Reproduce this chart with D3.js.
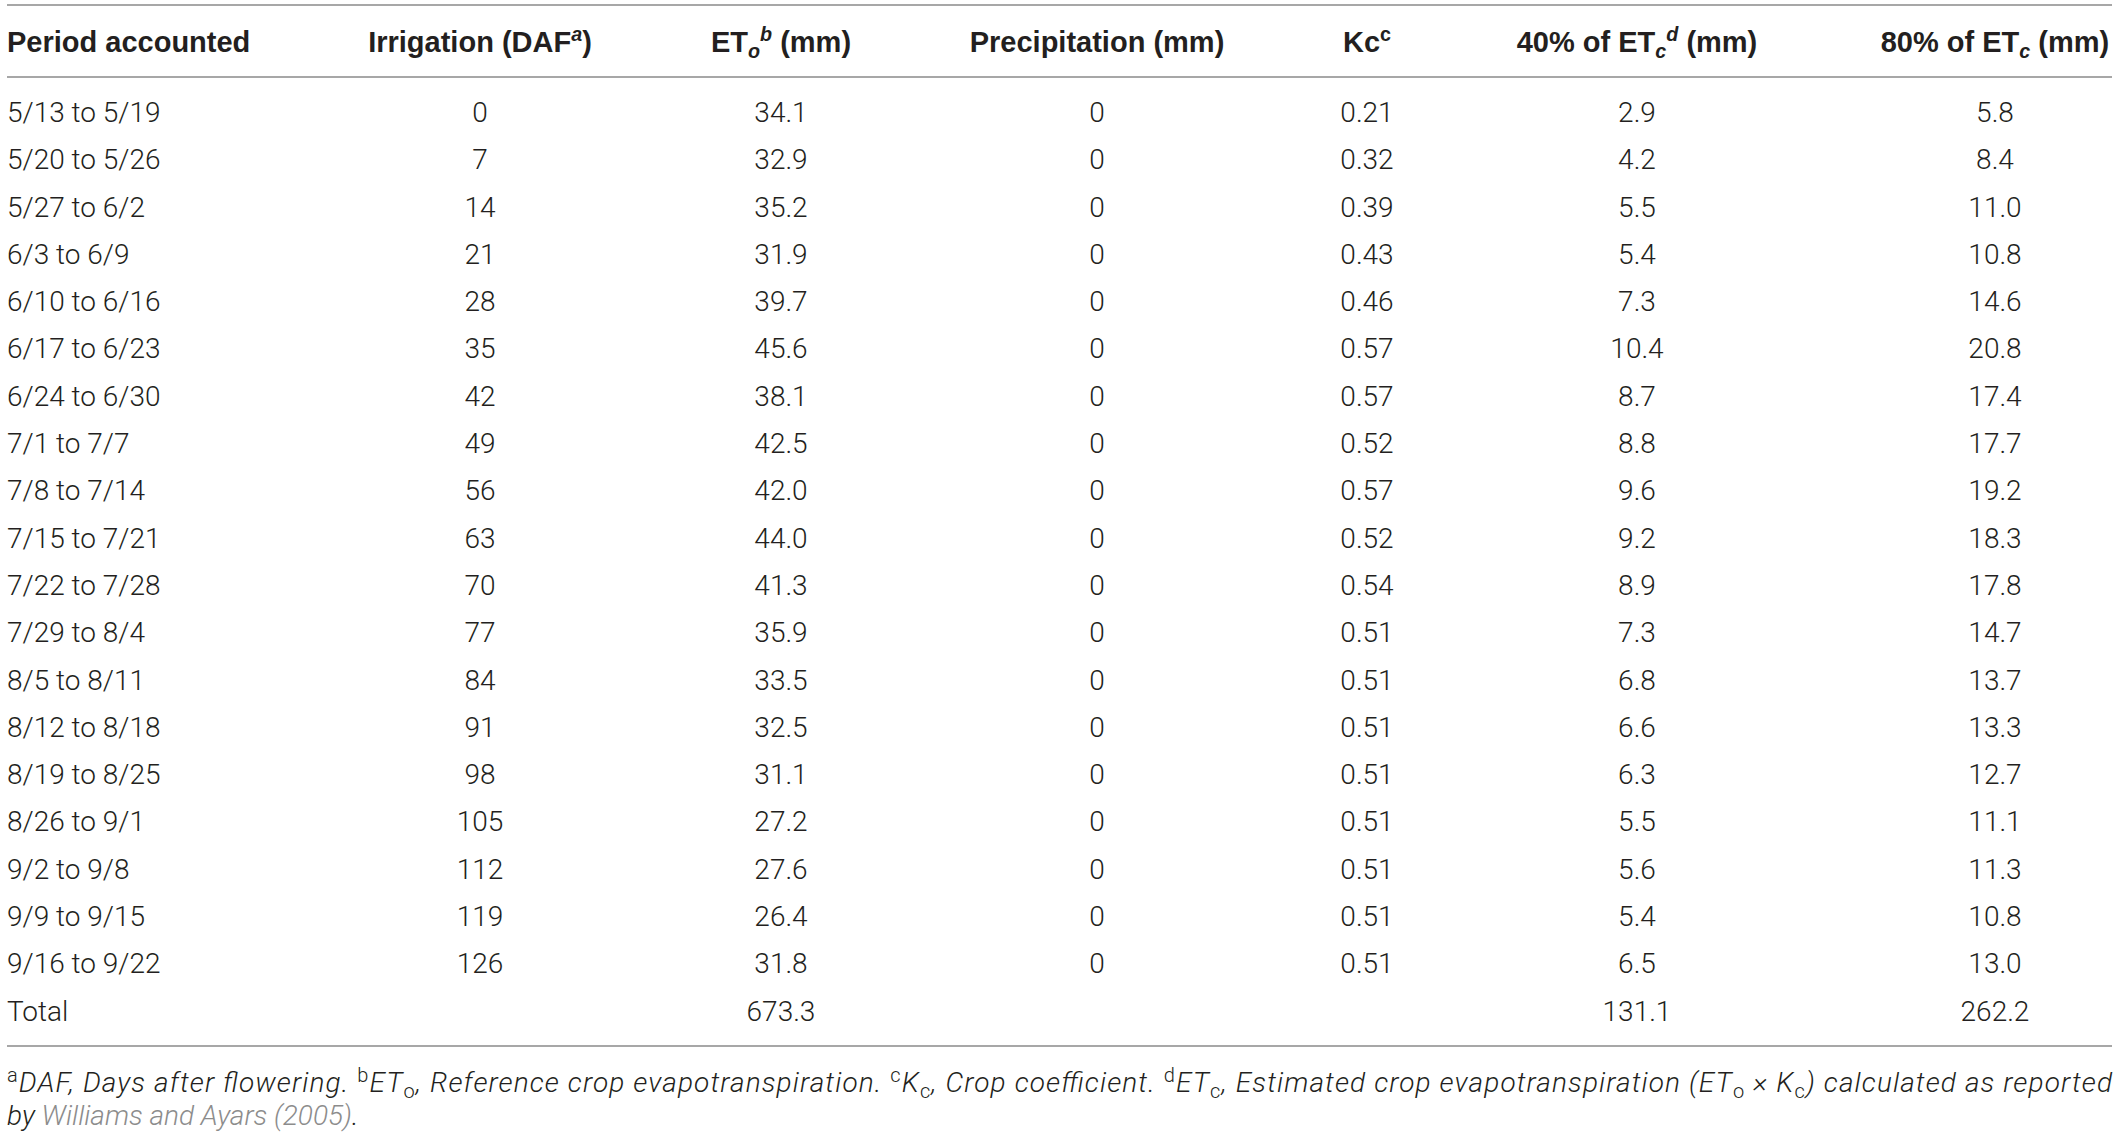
<!DOCTYPE html>
<html>
<head>
<meta charset="utf-8">
<script src="https://cdn.jsdelivr.net/npm/d3@7"></script>
<style>
  body { margin: 0; background: #fff; }
  svg text { fill: #231f20; }
</style>
</head>
<body>
<div id="chart"></div>
<script>
// table values
var periods = ["5/13 to 5/19", "5/20 to 5/26", "5/27 to 6/2", "6/3 to 6/9", "6/10 to 6/16",
  "6/17 to 6/23", "6/24 to 6/30", "7/1 to 7/7", "7/8 to 7/14", "7/15 to 7/21", "7/22 to 7/28",
  "7/29 to 8/4", "8/5 to 8/11", "8/12 to 8/18", "8/19 to 8/25", "8/26 to 9/1", "9/2 to 9/8",
  "9/9 to 9/15", "9/16 to 9/22"];
var daf = [0, 7, 14, 21, 28, 35, 42, 49, 56, 63, 70, 77, 84, 91, 98, 105, 112, 119, 126];
var eto = [34.1, 32.9, 35.2, 31.9, 39.7, 45.6, 38.1, 42.5, 42.0, 44.0, 41.3, 35.9, 33.5, 32.5, 31.1, 27.2, 27.6, 26.4, 31.8];
var precip = [0, 0, 0, 0, 0, 0, 0, 0, 0, 0, 0, 0, 0, 0, 0, 0, 0, 0, 0];
var kc = [0.21, 0.32, 0.39, 0.43, 0.46, 0.57, 0.57, 0.52, 0.57, 0.52, 0.54, 0.51, 0.51, 0.51, 0.51, 0.51, 0.51, 0.51, 0.51];
var etc40 = [2.9, 4.2, 5.5, 5.4, 7.3, 10.4, 8.7, 8.8, 9.6, 9.2, 8.9, 7.3, 6.8, 6.6, 6.3, 5.5, 5.6, 5.4, 6.5];
var etc80 = [5.8, 8.4, 11.0, 10.8, 14.6, 20.8, 17.4, 17.7, 19.2, 18.3, 17.8, 14.7, 13.7, 13.3, 12.7, 11.1, 11.3, 10.8, 13.0];
var totals = {period: "Total", eto: 673.3, etc40: 131.1, etc80: 262.2};

// header pieces: [text, kind] kind = "" | "sup" | "sub"
var headers = [
  [["Period accounted", ""]],
  [["Irrigation (DAF", ""], ["a", "sup"], [")", ""]],
  [["ET", ""], ["o", "sub"], ["b", "sup"], [" (mm)", ""]],
  [["Precipitation (mm)", ""]],
  [["Kc", ""], ["c", "supu"]],
  [["40% of ET", ""], ["c", "sub"], ["d", "sup"], [" (mm)", ""]],
  [["80% of ET", ""], ["c", "sub"], [" (mm)", ""]]
];
var columns = ["period", "daf", "eto", "precip", "kc", "etc40", "etc80"];

var width = 2119, height = 1139;
var left = 7, right = 2112;

var svg = d3.select("#chart").append("svg")
    .attr("width", width)
    .attr("height", height);

var colX = d3.scaleOrdinal()
    .domain(columns)
    .range([left, 480, 781, 1097, 1367, 1637, 1995]);

var nRows = periods.length + 1;
var y = d3.scaleBand()
    .domain(d3.range(nRows))
    .range([88.5, 88.5 + 47.3 * nRows])
    .padding(0);

var f1 = d3.format(".1f"), f2 = d3.format(".2f"), f0 = d3.format("d");

var rows = periods.map(function (p, i) {
  return {period: p, daf: f0(daf[i]), eto: f1(eto[i]), precip: f0(precip[i]),
    kc: f2(kc[i]), etc40: f1(etc40[i]), etc80: f1(etc80[i])};
});
rows.push({period: totals.period, daf: "", eto: f1(totals.eto), precip: "", kc: "",
  etc40: f1(totals.etc40), etc80: f1(totals.etc80)});

//Rules
svg.selectAll("line.rule")
    .data([5, 77, 1046])
    .enter().append("line")
    .attr("class", "rule")
    .attr("x1", left).attr("x2", right)
    .attr("y1", function (d) { return d; })
    .attr("y2", function (d) { return d; })
    .style("stroke", "#a7a7a7")
    .style("stroke-width", 2);

//Append pieces with sub / superscripts
function addPieces(text, pieces, size) {
  var shift = 0;
  pieces.forEach(function (p) {
    var ts = text.append("tspan").text(p[0]);
    var target = 0, fs = size;
    if (p[1] === "sup" || p[1] === "supu") { target = -0.38 * size; fs = size * 0.68; }
    if (p[1] === "sub") { target = 0.22 * size; fs = size * 0.68; }
    if (p[1] === "sup" || p[1] === "sub") ts.style("font-style", "italic");
    ts.style("font-size", fs + "px").attr("dy", target - shift);
    shift = target;
  });
}

//Header
svg.selectAll("text.head")
    .data(headers)
    .enter().append("text")
    .attr("class", "head")
    .attr("x", function (d, i) { return colX(columns[i]); })
    .attr("y", 52)
    .attr("text-anchor", function (d, i) { return i === 0 ? "start" : "middle"; })
    .style("font-family", "'Liberation Sans', Arial, sans-serif")
    .style("font-weight", "bold")
    .style("font-size", "29px")
    .each(function (d) { addPieces(d3.select(this), d, 29); });

//Body
var rowG = svg.selectAll("g.row")
    .data(rows)
    .enter().append("g")
    .attr("class", "row")
    .attr("transform", function (d, i) { return "translate(0," + (y(i) + y.bandwidth() / 2) + ")"; });

rowG.selectAll("text")
    .data(function (d) { return columns.map(function (c) { return {col: c, v: d[c]}; }); })
    .enter().append("text")
    .attr("x", function (d) { return colX(d.col); })
    .attr("dy", "0.35em")
    .attr("text-anchor", function (d) { return d.col === "period" ? "start" : "middle"; })
    .style("font-family", "Roboto, 'Helvetica Neue', sans-serif")
    .style("font-weight", 300)
    .style("font-size", "28px")
    .text(function (d) { return d.v; });

//Footnote
var note1 = [["a", "n"], ["DAF, Days after flowering. ", "i"], ["b", "n"], ["ET", "i"], ["o", "s"],
  [", Reference crop evapotranspiration. ", "i"], ["c", "n"], ["K", "i"], ["c", "s"],
  [", Crop coefficient. ", "i"], ["d", "n"], ["ET", "i"], ["c", "s"],
  [", Estimated crop evapotranspiration (ET", "i"], ["o", "s"], [" \u00d7 K", "i"], ["c", "s"],
  [") calculated as reported", "i"]];
var note2 = [["by ", "i"], ["Williams and Ayars (2005)", "l"], [".", "i"]];

function addNote(pieces, yPos, justify) {
  var t = svg.append("text")
      .attr("x", left)
      .attr("y", yPos)
      .style("font-family", "Roboto, 'Helvetica Neue', sans-serif")
      .style("font-weight", 300)
      .style("font-size", "28px");
  if (justify) t.attr("textLength", right - left).attr("lengthAdjust", "spacing");
  var shift = 0;
  pieces.forEach(function (p) {
    var ts = t.append("tspan").text(p[0]);
    var target = 0;
    if (p[1] === "n") { target = -10; ts.style("font-size", "20px"); }
    if (p[1] === "s") { target = 6; ts.style("font-size", "20px"); }
    if (p[1] === "i" || p[1] === "l") ts.style("font-style", "italic");
    if (p[1] === "l") ts.style("fill", "#8c8c8c");
    ts.attr("dy", target - shift);
    shift = target;
  });
}
addNote(note1, 1092, true);
addNote(note2, 1125, false);
</script>
</body>
</html>
